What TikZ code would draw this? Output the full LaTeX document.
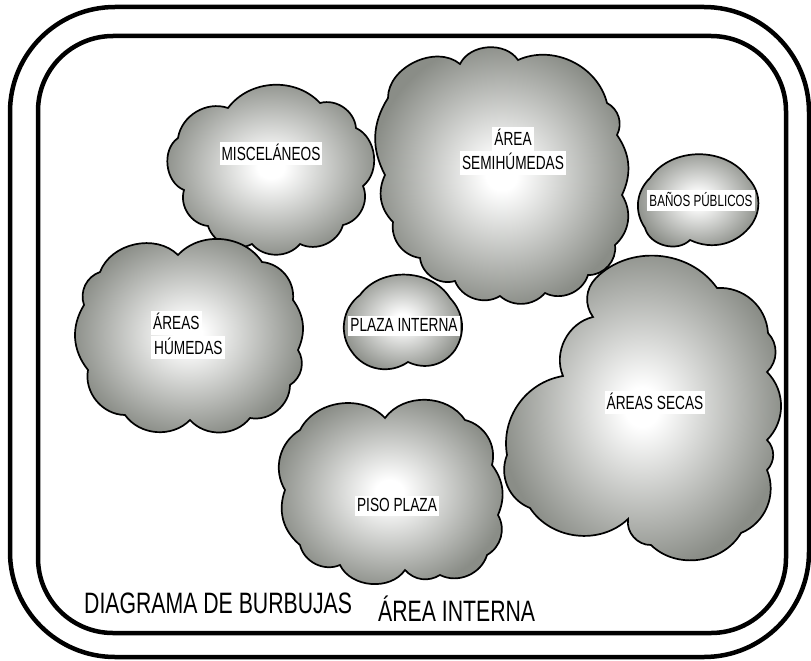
\documentclass[tikz,border=0pt]{standalone}
\usepackage{fontspec}
\setmainfont{Liberation Sans}[FakeStretch=0.72]
\definecolor{bubgray}{RGB}{138,141,135}
\pgfdeclareradialshading{bubshade}{\pgfpoint{0bp}{0bp}}{color(0bp)=(white); color(3bp)=(white); color(25bp)=(bubgray); color(50bp)=(bubgray)}
\newcommand\wb[1]{{\fboxsep=2pt\colorbox{white}{\rule[-3pt]{0pt}{15.5pt}#1}}}
\tikzset{
  bubble/.style={draw=black, line width=1.7pt, shading=bubshade},
  bump/.style={bend left=#1}, bump/.default=50,
  frame/.style={draw=black, line width=4.5pt},
  lbl/.style={inner sep=0pt, font=\fontsize{19}{24}\selectfont, align=center},
  title/.style={inner sep=0pt, font=\fontsize{29.5}{34}\selectfont, anchor=base west}
}
\begin{document}
\begin{tikzpicture}[x=1pt,y=-1pt]
\useasboundingbox (0,0) rectangle (811,661);
\fill[white] (0,0) rectangle (811,661);
% frames
\draw[frame, rounded corners=105pt] (10,7) rectangle (809,657);
\draw[frame, rounded corners=75pt] (38,36) rectangle (786,633);

% MISCELANEOS
\draw[bubble] (228,108) to[bump=50] (320,103) to[bump=50] (356,128) to[bump=58] (363,186)
  to[bump=50] (343,225) to[bump=50] (300,244) to[bump=50] (252,244) to[bump=50] (208,226)
  to[bump=50] (184,190) to[bump=62] (178,138) to[bump=50] (228,108) -- cycle;
% AREA SEMIHUMEDAS
\draw[bubble] (388,98) to[bump=65] (460,64) to[bump=60] (518,60) to[bump=50] (607,103)
  to[bump=45] (617,135) to[bump=30] (622,195) to[bump=40] (615,245) to[bump=50] (588,275)
  to[bump=50] (545,293) to[bump=45] (500,296) to[bump=50] (455,281) to[bump=50] (420,258)
  to[bump=45] (393,222) to[bump=35] (385,175) to[bump=30] (388,98) -- cycle;
% BANOS PUBLICOS
\draw[bubble] (650,178) to[bump=56] (748,178) to[bump=38] (752,224) to[bump=40] (690,240)
  to[bump=60] (645,228) to[bump=40] (650,178) -- cycle;
% PLAZA INTERNA
\draw[bubble] (360,295) to[bump=56] (450,298) to[bump=38] (455,350) to[bump=40] (408,362)
  to[bump=45] (352,352) to[bump=45] (360,295) -- cycle;
% AREAS HUMEDAS
\draw[bubble] (100,272) to[bump=57] (178,255) to[bump=52] (262,262) to[bump=45] (293,300)
  to[bump=30] (298,350) to[bump=45] (290,385) to[bump=50] (250,418) to[bump=50] (190,420)
  to[bump=50] (125,415) to[bump=50] (88,370) to[bump=35] (84,305) to[bump=45] (100,272) -- cycle;
% PISO PLAZA
\draw[bubble] (300,430) to[bump=55] (385,418) to[bump=55] (465,420) to[bump=45] (492,465)
  to[bump=30] (498,515) to[bump=45] (487,555) to[bump=50] (440,575) to[bump=40] (405,570)
  to[bump=60] (340,565) to[bump=50] (300,545) to[bump=35] (285,490) to[bump=45] (300,430) -- cycle;
% AREAS SECAS
\draw[bubble] (596,278) to[bump=50] (717,288) to[bump=45] (768,333) to[bump=45] (767,372)
  to[bump=45] (767,440) to[bump=45] (767,470) to[bump=45] (741,533) to[bump=52] (651,545)
  to[bump=50] (628,519) to[bump=50] (530,508) to[bump=45] (507,455) to[bump=45] (563,376)
  to[bump=50] (593,317) to[bump=40] (596,278) -- cycle;

% labels
\node[lbl, anchor=base] (misc) at (271,160) {\wb{MISCELÁNEOS}};
\node[lbl] (semi) at (513,151) {\wb{ÁREA}\\\wb{SEMIHÚMEDAS}};
\node[lbl, anchor=base, font=\fontsize{16.2}{20}\selectfont] (banos) at (701,206) {\wb{BAÑOS PÚBLICOS}};
\node[lbl, anchor=base] (plaza) at (404,331) {\wb{PLAZA INTERNA}};
\node[lbl, align=left, font=\fontsize{19}{20}\selectfont, anchor=north west] (hum) at (151,311) {\wb{ÁREAS}\\\wb{\hspace{1pt}HÚMEDAS}};
\node[lbl, anchor=base] (secas) at (655,409) {\wb{ÁREAS SECAS}};
\node[lbl, anchor=base] (piso) at (397,511) {\wb{PISO PLAZA}};
\node[title] (diag) at (84,613) {DIAGRAMA DE BURBUJAS};
\node[title] (interna) at (378,621) {ÁREA INTERNA};
\end{tikzpicture}
\end{document}
